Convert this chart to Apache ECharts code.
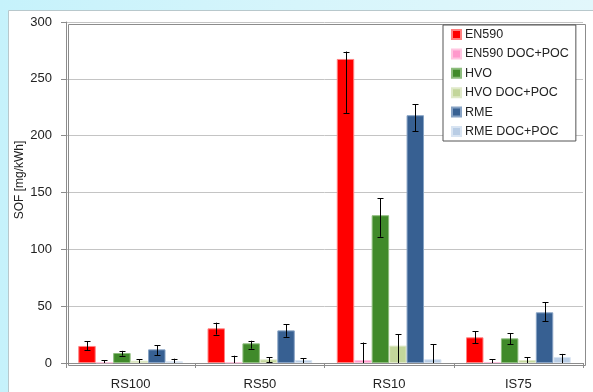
<!DOCTYPE html>
<html>
<head>
<meta charset="utf-8">
<script src="https://cdn.jsdelivr.net/npm/echarts@6/dist/echarts.min.js"></script>
<style>
  html, body { margin: 0; padding: 0; }
  body { width: 593px; height: 392px; background: linear-gradient(90deg, #c6f2fb 0%, #d6f5fb 50%, #e2f7fb 100%); }
  #chart { position: absolute; left: 0; top: 0; width: 593px; height: 392px; }
</style>
</head>
<body>
<div id="chart"></div>
<script>
// Test cycles
const categories = ['RS100', 'RS50', 'RS10', 'IS75'];
const seriesNames = ['EN590', 'EN590 DOC+POC', 'HVO', 'HVO DOC+POC', 'RME', 'RME DOC+POC'];

// Soluble organic fraction, mg/kWh
const en590      = [15.0, 30.5, 267.5, 22.6];
const en590Doc   = [0.5, 0.5, 2.6, 0.8];
const hvo        = [8.8, 17.3, 130.0, 21.7];
const hvoDoc     = [2.0, 3.2, 15.3, 2.6];
const rme        = [12.0, 28.7, 218.0, 44.6];
const rmeDoc     = [1.5, 2.6, 3.3, 5.3];

// Error bar ends (low / high), mg/kWh
const en590Lo    = [11.0, 25.0, 220.0, 17.3];
const en590Hi    = [19.0, 35.5, 274.0, 28.0];
const en590DocLo = [0, 0, 0, 0];
const en590DocHi = [2.3, 6.4, 18.0, 3.5];
const hvoLo      = [6.5, 12.6, 111.0, 16.5];
const hvoHi      = [10.7, 19.6, 145.0, 26.0];
const hvoDocLo   = [0, 0.5, 0, 0];
const hvoDocHi   = [3.5, 5.0, 25.3, 5.0];
const rmeLo      = [7.0, 23.0, 204.0, 37.0];
const rmeHi      = [15.5, 34.0, 227.5, 53.4];
const rmeDocLo   = [0, 0, 0, 0];
const rmeDocHi   = [3.8, 4.0, 16.5, 8.0];

const yTicks = [0, 50, 100, 150, 200, 250, 300];

const values = [en590, en590Doc, hvo, hvoDoc, rme, rmeDoc];
const lows   = [en590Lo, en590DocLo, hvoLo, hvoDocLo, rmeLo, rmeDocLo];
const highs  = [en590Hi, en590DocHi, hvoHi, hvoDocHi, rmeHi, rmeDocHi];

const colors  = ['#ff0000', '#ff99cc', '#408a2a', '#c3d69b', '#376092', '#b9cde5'];
const borders = ['#ff8080', '#ffc4e0', '#8cbc7c', '#dfe9c8', '#86a2c4', '#d8e4f2'];

const FONT = 'Liberation Sans, Arial, sans-serif';
const CAT_GAP = 0.19;
const N = seriesNames.length;

const chart = echarts.init(document.getElementById('chart'), null, { renderer: 'canvas' });

const barSeries = seriesNames.map((name, i) => ({
  name: name,
  type: 'bar',
  data: values[i],
  barGap: '0%',
  barCategoryGap: (CAT_GAP * 100) + '%',
  itemStyle: { color: colors[i], borderColor: borders[i], borderWidth: 1 },
  emphasis: { disabled: true },
  z: 2
}));

// whiskers: [category index, series index, low, high]
const errData = [];
for (let s = 0; s < N; s++) {
  for (let c = 0; c < categories.length; c++) {
    errData.push([c, s, lows[s][c], highs[s][c]]);
  }
}

const errSeries = {
  type: 'custom',
  name: 'err',
  data: errData,
  z: 5,
  silent: true,
  encode: { x: 0, y: [2, 3] },
  renderItem: function (params, api) {
    const c = api.value(0), s = api.value(1);
    const band = api.size([1, 0])[0];
    const bw = band * (1 - CAT_GAP) / N;
    const center = api.coord([c, 0])[0];
    const x = Math.round(center - band * (1 - CAT_GAP) / 2 + bw * (s + 0.5)) + 0.5;
    const yLo = api.coord([c, api.value(2)])[1];
    const yHi = api.coord([c, api.value(3)])[1];
    const cap = 3;
    const style = { stroke: '#000', lineWidth: 1 };
    const children = [
      { type: 'line', shape: { x1: x, y1: yHi, x2: x, y2: yLo }, style: style },
      { type: 'line', shape: { x1: x - cap, y1: Math.round(yHi) + 0.5, x2: x + cap, y2: Math.round(yHi) + 0.5 }, style: style }
    ];
    if (api.value(2) > 0) {
      children.push({ type: 'line', shape: { x1: x - cap, y1: Math.round(yLo) + 0.5, x2: x + cap, y2: Math.round(yLo) + 0.5 }, style: style });
    }
    return { type: 'group', children: children };
  }
};

chart.setOption({
  backgroundColor: 'transparent',
  animation: false,
  textStyle: { fontFamily: FONT },
  graphic: [{
    type: 'rect',
    left: 8, top: 10,
    shape: { width: 585, height: 382 },
    style: { fill: '#ffffff', stroke: '#b8c8cc', lineWidth: 1 },
    z: -10
  }, {
    type: 'rect',
    left: 66, top: 22,
    shape: { width: 517, height: 341 },
    style: { fill: 'none', stroke: '#8c8c8c', lineWidth: 1 },
    z: 1
  }],
  grid: { left: 66, top: 22, right: 10, bottom: 29, containLabel: false },
  legend: {
    data: seriesNames,
    orient: 'vertical',
    left: 443, top: 25,
    itemWidth: 9, itemHeight: 9, itemGap: 6.4,
    padding: [3, 7, 3, 8],
    borderColor: '#555', borderWidth: 1,
    backgroundColor: '#ffffff',
    icon: 'rect',
    textStyle: { fontFamily: FONT, fontSize: 12.5, color: '#222', padding: [0, 0, 0, -1] },
    selectedMode: false
  },
  xAxis: {
    type: 'category',
    data: categories,
    axisLine: { lineStyle: { color: '#8c8c8c' } },
    axisTick: { show: true, length: 5, alignWithLabel: false, lineStyle: { color: '#8c8c8c' } },
    axisLabel: { fontFamily: FONT, fontSize: 13, color: '#222', margin: 15 }
  },
  yAxis: {
    type: 'value',
    min: yTicks[0], max: yTicks[yTicks.length - 1], interval: 50,
    name: 'SOF [mg/kWh]',
    nameLocation: 'middle',
    nameGap: 40,
    nameMoveOverlap: false,
    nameTextStyle: { fontFamily: FONT, fontSize: 12, color: '#222', padding: [0, 0, 0, 25] },
    axisLine: { show: true, lineStyle: { color: '#8c8c8c' } },
    axisTick: { show: true, length: 5, lineStyle: { color: '#8c8c8c' } },
    axisLabel: { fontFamily: FONT, fontSize: 13, color: '#222', margin: 14 },
    splitLine: { lineStyle: { color: '#c4c4c4' } }
  },
  series: barSeries.concat([errSeries])
});
</script>
</body>
</html>
